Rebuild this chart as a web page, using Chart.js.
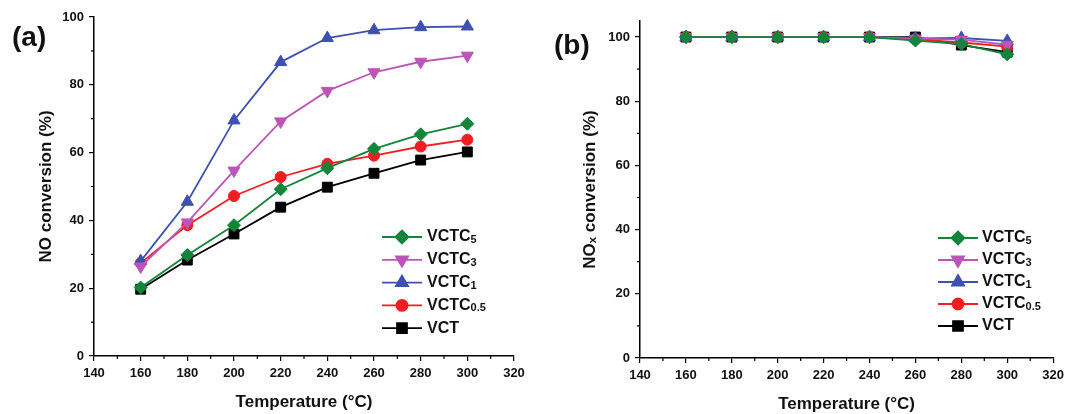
<!DOCTYPE html>
<html>
<head>
<meta charset="utf-8">
<script src="https://cdn.jsdelivr.net/npm/chart.js@4/dist/chart.umd.min.js"></script>
<style>
  body { margin: 0; background: #fff; }
  #wrap { position: relative; width: 1069px; height: 414px; overflow: hidden; }
  canvas { position: absolute; top: 0; }
  .tag { position: absolute; font: bold 28px "Liberation Sans", Arial, sans-serif; line-height: 28px; color: #111; }
</style>
</head>
<body>
<div id="wrap">
  <canvas id="chartA" width="534" height="414" style="left:0"></canvas>
  <canvas id="chartB" width="535" height="414" style="left:534px"></canvas>
  <div class="tag" style="left:12px;top:23px">(a)</div>
  <div class="tag" style="left:554px;top:31px">(b)</div>
</div>
<script>
var temps = [160, 180, 200, 220, 240, 260, 280, 300];
var names = ['VCTC', 'VCTC', 'VCTC', 'VCTC', 'VCT'];
var subs = ['5', '3', '1', '0.5', ''];

// (a) NO conversion (%)
var noVCTC5 = [20.2, 29.8, 38.6, 49.2, 55.4, 61.1, 65.4, 68.5];
var noVCTC3 = [26.4, 39.4, 54.7, 69.2, 78.2, 83.7, 86.8, 88.6];
var noVCTC1 = [28.0, 45.5, 69.5, 86.7, 93.8, 96.1, 97.0, 97.2];
var noVCTC05 = [27.4, 38.6, 47.2, 52.8, 56.7, 59.1, 61.8, 63.8];
var noVCT = [19.7, 28.3, 36.0, 43.9, 49.8, 53.9, 57.8, 60.2];

// (b) NOx conversion (%)
var noxVCTC5 = [100, 100, 100, 100, 100, 98.9, 97.8, 94.6];
var noxVCTC3 = [100, 100, 100, 100, 100, 99.5, 99.2, 97.6];
var noxVCTC1 = [100, 100, 100, 100, 100, 99.6, 99.7, 98.8];
var noxVCTC05 = [100, 100, 100, 100, 100, 99.3, 98.3, 97.0];
var noxVCT = [100, 100, 100, 100, 100, 100, 97.5, 95.3];

var colors = ['#13853a', '#bd55b8', '#3e50b0', '#f01e22', '#000000'];
var styles = ['rectRot', 'triangle', 'triangle', 'circle', 'rect'];
var rotations = [0, 180, 0, 0, 0];
var radii = [6.5, 7, 7, 5.5, 7];

var FONT = '"Liberation Sans", Arial, sans-serif';

function makeSets(series){
  return series.map(function(vals, i){
    return {
      label: names[i] + subs[i],
      data: temps.map(function(t, j){ return {x: t, y: vals[j]}; }),
      borderColor: colors[i],
      backgroundColor: colors[i],
      borderWidth: 1.8,
      pointStyle: styles[i],
      pointRotation: rotations[i],
      pointRadius: radii[i],
      pointBorderWidth: 1,
      pointHoverRadius: radii[i],
      tension: 0
    };
  });
}

// legend drawn inside the plot area, with subscripts
var insideLegend = {
  id: 'insideLegend',
  afterDatasetsDraw: function(chart, args, opts){
    var ctx = chart.ctx, a = chart.chartArea;
    chart.data.datasets.forEach(function(ds, i){
      var x0 = a.left + opts.left, y = a.top + opts.top + i * opts.gap;
      ctx.save();
      ctx.strokeStyle = ds.borderColor;
      ctx.fillStyle = ds.backgroundColor;
      ctx.lineWidth = 1.8;
      ctx.beginPath(); ctx.moveTo(x0, y); ctx.lineTo(x0 + 40, y); ctx.stroke();
      Chart.helpers.drawPoint(ctx, {pointStyle: ds.pointStyle, radius: ds.pointRadius,
        rotation: ds.pointRotation, borderWidth: 1}, x0 + 20, y);
      ctx.fillStyle = '#111';
      ctx.textBaseline = 'middle';
      ctx.font = 'bold 16px ' + FONT;
      ctx.fillText(names[i], x0 + opts.textGap, y);
      var w = ctx.measureText(names[i]).width;
      ctx.font = 'bold 11px ' + FONT;
      ctx.fillText(subs[i], x0 + opts.textGap + w, y + 3);
      ctx.restore();
    });
  }
};

// short minor ticks between labelled ones
var minorTicks = {
  id: 'minorTicks',
  afterDraw: function(chart){
    var ctx = chart.ctx, xs = chart.scales.x, ys = chart.scales.y;
    ctx.save();
    ctx.strokeStyle = '#000'; ctx.lineWidth = 1.2;
    ctx.beginPath();
    for (var v = 150; v < 320; v += 20){
      var px = xs.getPixelForValue(v);
      ctx.moveTo(px, xs.top); ctx.lineTo(px, xs.top + 3);
    }
    for (var u = 10; u < 100; u += 20){
      var py = ys.getPixelForValue(u);
      ctx.moveTo(ys.right, py); ctx.lineTo(ys.right - 3, py);
    }
    ctx.stroke();
    ctx.restore();
  }
};

function makeChart(id, series, yTitle, cfg){
  return new Chart(document.getElementById(id), {
    type: 'line',
    data: { datasets: makeSets(series) },
    plugins: [insideLegend, minorTicks],
    options: {
      responsive: false,
      animation: false,
      layout: { padding: cfg.padding },
      plugins: {
        legend: { display: false },
        tooltip: { enabled: false },
        insideLegend: cfg.legend
      },
      scales: {
        x: {
          type: 'linear', min: 140, max: 320,
          ticks: { stepSize: 20, padding: 5, color: '#111', font: { family: FONT, size: 13, weight: 'bold' } },
          grid: { drawOnChartArea: false, tickLength: 5, color: '#000', lineWidth: 1.2 },
          border: { color: '#000', width: 1.5 },
          title: { display: true, text: 'Temperature (°C)', color: '#111', padding: { top: 0, bottom: cfg.xTitlePad },
                   font: { family: FONT, size: 17, weight: 'bold' } },
          afterFit: function(s){ s.height = cfg.xHeight; }
        },
        y: {
          min: 0, max: cfg.yMax,
          afterBuildTicks: function(s){ s.ticks = s.ticks.filter(function(t){ return t.value % 20 === 0; }); },
          ticks: { stepSize: 20, padding: 5, color: '#111', font: { family: FONT, size: 13, weight: 'bold' } },
          grid: { drawOnChartArea: false, tickLength: 5, color: '#000', lineWidth: 1.2 },
          border: { color: '#000', width: 1.5 },
          title: { display: true, text: yTitle, color: '#111', padding: { top: 4, bottom: 0 },
                   font: { family: FONT, size: 17, weight: 'bold' } },
          afterFit: function(s){ s.width = cfg.yWidth; }
        }
      }
    }
  });
}

makeChart('chartA', [noVCTC5, noVCTC3, noVCTC1, noVCTC05, noVCT], 'NO conversion (%)', {
  padding: { left: 32, right: 20, top: 17, bottom: 0 },
  yWidth: 62, xHeight: 58, xTitlePad: 1, yMax: 100,
  legend: { left: 288, top: 220, gap: 22.8, textGap: 45 }
});

makeChart('chartB', [noxVCTC5, noxVCTC3, noxVCTC1, noxVCTC05, noxVCT], 'NOₓ conversion (%)', {
  padding: { left: 42, right: 11, top: 21, bottom: 0 },
  yWidth: 64, xHeight: 56, xTitlePad: -1, yMax: 105,
  legend: { left: 298, top: 217, gap: 22, textGap: 44 }
});
</script>
</body>
</html>
